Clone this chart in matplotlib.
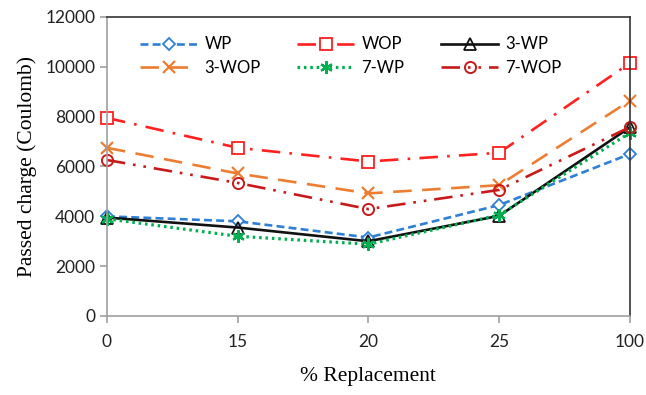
import matplotlib
matplotlib.use("Agg")
import matplotlib.pyplot as plt

categories = ["0", "15", "20", "25", "100"]
WP = [4000, 3800, 3150, 4450, 6500]
WOP = [7950, 6750, 6200, 6550, 10150]
W3P = [3950, 3550, 3000, 4020, 7570]
W3OP = [6750, 5720, 4920, 5250, 8640]
W7P = [3900, 3200, 2880, 4050, 7350]
W7OP = [6260, 5340, 4290, 5060, 7580]

fig = plt.figure(figsize=(6.46, 3.95), dpi=100)
ax = fig.add_axes([0.1656, 0.2, 0.8094, 0.757])
x = list(range(len(categories)))

lw = 1.9
ms = 8
h = {}
h["WP"], = ax.plot(x, WP, color="#2f7fd6", lw=lw, dashes=(3, 1.6), marker="D", ms=6.5,
                   mfc="white", mec="#2f7fd6", mew=1.3, clip_on=False, label="WP")
h["WOP"], = ax.plot(x, WOP, color="#ff2020", lw=lw, dashes=(7, 3.5, 1, 3.5), marker="s", ms=ms,
                    mfc="white", mec="#ff2020", mew=1.3, clip_on=False, label="WOP")
h["3-WP"], = ax.plot(x, W3P, color="#111111", lw=lw, marker="^", ms=ms,
                     mfc="none", mec="#111111", mew=1.3, clip_on=False, label="3-WP")
h["3-WOP"], = ax.plot(x, W3OP, color="#ed7d31", lw=lw, dashes=(7, 4), marker="x", ms=ms + 1,
                      mec="#ed7d31", mew=1.6, clip_on=False, label="3-WOP")
h["7-WP"], = ax.plot(x, W7P, color="#00b050", lw=lw + 0.4, dashes=(0.8, 1.2), marker=(6, 2, 0), ms=ms + 1,
                     mec="#00b050", mfc="#00b050", mew=1.6, clip_on=False, label="7-WP")
h["7-WOP"], = ax.plot(x, W7OP, color="#c81a1a", lw=lw, dashes=(7, 3, 1, 3, 1, 3), marker="o", ms=ms,
                      mfc="none", mec="#c81a1a", mew=1.4, clip_on=False, label="7-WOP")

ax.set_xlim(0, 4)
ax.set_ylim(0, 12000)
ax.set_xticks(x)
ax.set_xticklabels(categories)
ax.set_yticks(range(0, 12001, 2000))

for s in ["left", "bottom"]:
    ax.spines[s].set_color("#a0a0a0")
    ax.spines[s].set_linewidth(1.2)
for s in ["top", "right"]:
    ax.spines[s].set_color("#333333")
    ax.spines[s].set_linewidth(1.2)

ax.tick_params(axis="both", direction="out", length=5, color="#a0a0a0", width=1.2,
               labelsize=12.5, labelcolor="#222222")
ax.tick_params(axis="x", pad=8)
for lab in ax.get_xticklabels() + ax.get_yticklabels():
    lab.set_fontfamily("Lato")

ax.set_xlabel("% Replacement", fontfamily="Liberation Serif", fontsize=15.5, labelpad=12)
ax.set_ylabel("Passed charge (Coulomb)", fontfamily="Liberation Serif", fontsize=15.5, labelpad=6)

order = ["WP", "3-WOP", "WOP", "7-WP", "3-WP", "7-WOP"]
leg = ax.legend([h[k] for k in order], order, ncol=3, loc="upper left",
                bbox_to_anchor=(0.035, 0.985), frameon=False, handlelength=3.4,
                columnspacing=2.2, handletextpad=0.45, labelspacing=0.45,
                prop={"family": "Lato", "size": 12})

fig.savefig("out.png", dpi=100)
